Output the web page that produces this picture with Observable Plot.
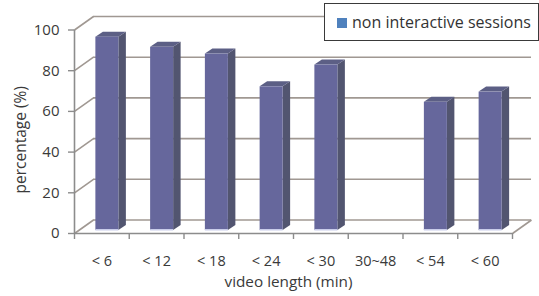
<!DOCTYPE html>
<html>
<head>
<meta charset="utf-8">
<script src="https://cdn.jsdelivr.net/npm/d3@7"></script>
<script src="https://cdn.jsdelivr.net/npm/@observablehq/plot@0.6"></script>
<style>
  html, body { margin: 0; padding: 0; background: #fff; }
  #chart { position: relative; width: 539px; height: 296px; font-family: "Open Sans", sans-serif; }
  #legend { position: absolute; left: 324px; top: 3px; width: 213px; height: 36px; border: 1px solid #3a3a3a; background: #fff; }
  #legend .sw { position: absolute; left: 12px; top: 14px; width: 10px; height: 10px; background: #4f81bd; }
  #legend .lb { position: absolute; left: 27px; top: 8px; font-size: 16px; color: #333; white-space: nowrap; line-height: 20px; }
</style>
</head>
<body>
<div id="chart"></div>
<script>
// ---- data ----
const categories = ["< 6", "< 12", "< 18", "< 24", "< 30", "30~48", "< 54", "< 60"];
const values = [95, 90, 86.7, 70.6, 81.3, null, 63, 68];
const yTicks = [0, 20, 40, 60, 80, 100];
const seriesName = "non interactive sessions";
const xTitle = "video length (min)";
const yTitle = "percentage (%)";

// ---- layout ----
const W = 539, H = 296, mL = 74, mR = 27, mT = 29.5, mB = 63;
const kx = (W - mL - mR) / categories.length; // px per category
const ky = (H - mT - mB) / 100;               // px per percent
const wallDX = 19, wallDY = 13.5;             // depth of wall (px)
const barDX = 7.5, barDY = 5;                 // depth of bar (px)
const barOffX = 5.5, barOffY = -3;            // bar front plane offset (px)
const hw = 11.5 / kx;                         // half bar width in category units
const bdx = barDX / kx, bdy = barDY / ky;

const colFront = "#66679c", colSide = "#525570", colTop = "#5c5f85", colBottom = "#c9cdea";
const colGrid = "#a09892", colAxis = "#8c8c8c", colText = "#3a3a3a";
const font = "'Open Sans', sans-serif";

const idx = categories.map((c, i) => i);
const bars = idx.filter(i => values[i] != null).map(i => ({i, c: categories[i], v: values[i]}));
const sidePts = bars.flatMap(d => [
  {i: d.i, x: d.i + hw, y1: 0, y2: d.v},
  {i: d.i, x: d.i + hw + bdx, y1: bdy, y2: d.v + bdy}
]);
const topPts = bars.flatMap(d => [
  {i: d.i, y: d.v, x1: d.i - hw, x2: d.i + hw},
  {i: d.i, y: d.v + bdy, x1: d.i - hw + bdx, x2: d.i + hw + bdx}
]);
const bounds = [...idx.map(i => i - 0.5), categories.length - 0.5];
const xmin = -0.5, xmax = categories.length - 0.5;

const plot = Plot.plot({
  width: W, height: H,
  marginLeft: mL, marginRight: mR, marginTop: mT, marginBottom: mB,
  style: {fontFamily: font, color: colText, background: "transparent"},
  x: {type: "linear", domain: [xmin, xmax], axis: null},
  y: {domain: [0, 100], axis: null},
  marks: [
    // back wall gridlines
    Plot.ruleY(yTicks, {stroke: colGrid, strokeWidth: 1.6, dx: wallDX, dy: -wallDY}),
    // left wall diagonals
    Plot.link(yTicks, {x1: xmin, x2: xmin + wallDX / kx, y1: d => d, y2: d => d + wallDY / ky, stroke: colGrid, strokeWidth: 1.6}),
    // right floor diagonal
    Plot.link([0], {x1: xmax, x2: xmax + wallDX / kx, y1: 0, y2: wallDY / ky, stroke: colGrid, strokeWidth: 1.6}),
    // front axes
    Plot.ruleY([0], {stroke: colAxis, strokeWidth: 1.6}),
    Plot.ruleX([xmin], {stroke: colAxis, strokeWidth: 1.6}),
    Plot.axisX({ticks: bounds, tickSize: 6, tickFormat: () => "", stroke: colAxis, strokeWidth: 1.4}),
    Plot.axisX({ticks: idx, tickSize: 0, tickPadding: 22, tickFormat: i => categories[i], fontSize: 14.5, fill: colText}),
    Plot.axisY({ticks: yTicks, tickSize: 6, tickPadding: 9, fontSize: 15, stroke: colAxis, strokeWidth: 1.4, fill: colText, label: null}),
    // bars
    Plot.areaY(sidePts, {x: "x", y1: "y1", y2: "y2", z: "i", fill: colSide, dx: barOffX, dy: barOffY}),
    Plot.areaX(topPts, {y: "y", x1: "x1", x2: "x2", z: "i", fill: colTop, dx: barOffX, dy: barOffY}),
    Plot.rect(bars, {x1: d => d.i - hw, x2: d => d.i + hw, y1: 0, y2: "v", fill: colFront, dx: barOffX, dy: barOffY}),
    Plot.ruleY(bars, {x1: d => d.i - hw, x2: d => d.i + hw, y: 0, stroke: colBottom, strokeWidth: 1.5, dx: barOffX, dy: barOffY - 0.75}),
    // titles
    Plot.text([xTitle], {frameAnchor: "bottom", textAnchor: "middle", text: d => d, dx: -5, dy: 53, fontSize: 15.3, fill: colText}),
    Plot.text([yTitle], {frameAnchor: "left", textAnchor: "middle", text: d => d, dx: -53, dy: 8, rotate: -90, fontSize: 15.5, fill: colText})
  ]
});

const chart = document.getElementById("chart");
chart.appendChild(plot);
const legend = document.createElement("div");
legend.id = "legend";
legend.innerHTML = `<div class="sw"></div><div class="lb"></div>`;
legend.querySelector(".lb").textContent = seriesName;
chart.appendChild(legend);
</script>
</body>
</html>
